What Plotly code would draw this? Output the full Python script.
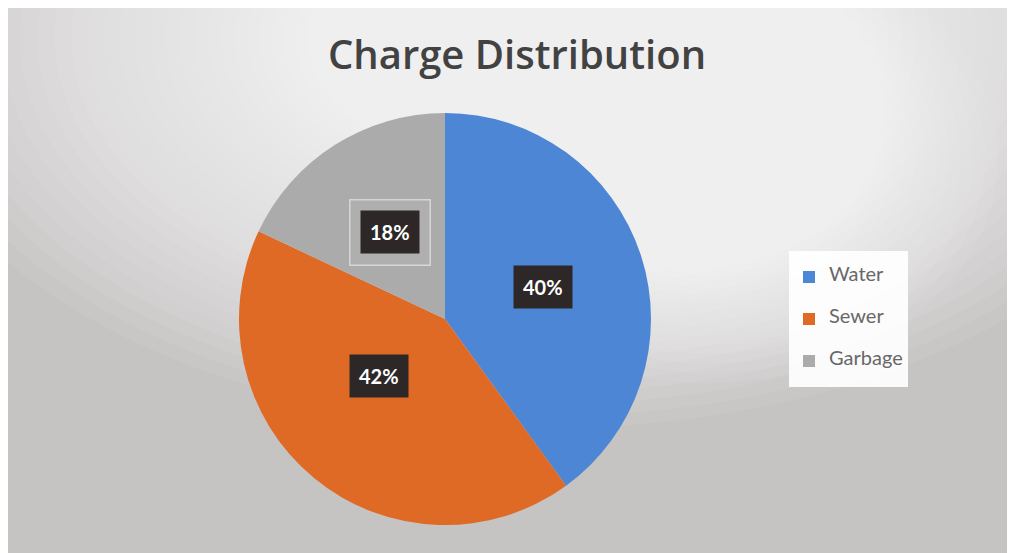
import math
import plotly.graph_objects as go

# ---- data ----
categories = ["Water", "Sewer", "Garbage"]
values = [40, 42, 18]
colors = ["#4d86d5", "#de6a25", "#ababab"]
title_text = "Charge Distribution"

W, H = 1015, 553
cx_px, cy_px, r_px = 437, 311, 206

# legend labels: small base font with padded lines to reproduce the roomy spacing
legend_labels = [f"&nbsp;<br><span style='font-size:20px'>{c}</span><br>&nbsp;" for c in categories]

fig = go.Figure()
fig.add_trace(go.Pie(
    labels=legend_labels, values=values, sort=False, direction="clockwise",
    rotation=0, textinfo="none", customdata=categories,
    hovertemplate="%{customdata}: %{percent}<extra></extra>",
    marker=dict(colors=colors, line=dict(width=0)),
    domain=dict(x=[(cx_px - r_px) / W, (cx_px + r_px) / W],
                y=[(H - cy_px - r_px) / H, (H - cy_px + r_px) / H]),
    showlegend=True,
))

# background: warm gray with soft white glows (decoration only)
shapes = []


def glow(gx, gy, rx0, rx1, ry0, ry1, n, op):
    for i in range(n):
        f = (1 - i / n) ** 2
        rx, ry = rx0 + rx1 * f, ry0 + ry1 * f
        shapes.append(dict(type="circle", xref="paper", yref="paper", layer="below",
                           x0=(gx - rx) / W, x1=(gx + rx) / W,
                           y0=1 - (gy + ry) / H, y1=1 - (gy - ry) / H,
                           fillcolor="white", opacity=op, line=dict(width=0)))


glow(540, 30, 60, 600, 30, 360, 60, 0.06)
glow(700, 150, 30, 260, 25, 200, 40, 0.06)

# percentage labels positioned from the data
annotations = []
total = sum(values)
cum = 0
for cat, v in zip(categories, values):
    mid = (cum + v / 2) / total * 2 * math.pi
    cum += v
    x_px = cx_px + 0.5 * r_px * math.sin(mid)
    y_px = cy_px - 0.5 * r_px * math.cos(mid)
    pct = f"{round(v / total * 100)}%"
    if cat == "Garbage":
        annotations.append(dict(x=x_px / W, y=1 - y_px / H, xref="paper", yref="paper",
                                text=pct, showarrow=False,
                                font=dict(size=20, color="rgba(0,0,0,0)", family="Lato"),
                                bgcolor="rgba(255,255,255,0.06)", bordercolor="#d6d6d6",
                                borderwidth=1.5, borderpad=20))
    annotations.append(dict(x=x_px / W, y=1 - y_px / H, xref="paper", yref="paper",
                            text=f"<b>{pct}</b>", showarrow=False,
                            font=dict(size=20, color="white", family="Lato"),
                            bgcolor="#2e2727", borderpad=9))

fig.update_layout(
    width=W, height=H,
    margin=dict(l=0, r=0, t=0, b=0),
    paper_bgcolor="#c6c3c3",
    plot_bgcolor="rgba(0,0,0,0)",
    title=dict(text=title_text, x=509 / W, xanchor="center", y=1 - 47 / H, yanchor="middle",
               font=dict(size=40, color="#424242", family="Open Sans", weight=600)),
    legend=dict(x=781 / W, xanchor="left", y=1 - 311 / H, yanchor="middle",
                bgcolor="rgba(255,255,255,0.92)", borderwidth=0,
                font=dict(size=10, color="#686868", family="Lato"),
                itemwidth=30),
    shapes=shapes,
    annotations=annotations,
)

fig.write_html("out.html")
